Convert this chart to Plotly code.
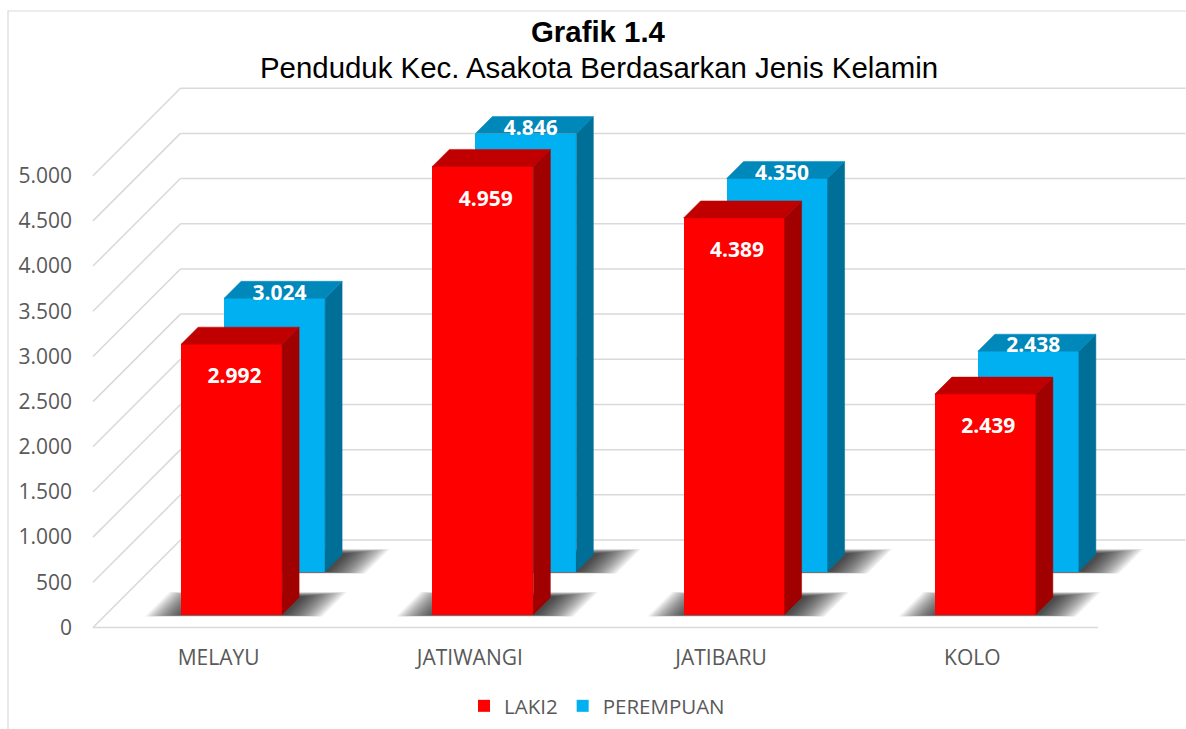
import plotly.graph_objects as go

# ---------------- data ----------------
categories = ["MELAYU", "JATIWANGI", "JATIBARU", "KOLO"]
laki2 = [2992, 4959, 4389, 2439]
perempuan = [3024, 4846, 4350, 2438]
y_ticks = [0, 500, 1000, 1500, 2000, 2500, 3000, 3500, 4000, 4500, 5000]
series_names = ["LAKI2", "PEREMPUAN"]
title_line1 = "Grafik 1.4"
title_line2 = "Penduduk Kec. Asakota Berdasarkan Jenis Kelamin"

# ---------------- geometry / style ----------------
W, H = 1186, 729
PX_PER_CAT = 251.25       # pixels per category step (front plane)
PX_PER_VAL = 0.09036      # pixels per value unit
X0_PX = 218.6             # pixel x of category 0 (front plane)
Y0_PX = 627.5             # pixel y of value 0 (front plane)
DOM_L, DOM_R = 73, W      # plot-area pixel bounds
DOM_T, DOM_B = 40, 643

BAR_W_PX = 101
THICK_PX = 17
WALL_DEPTH_PX = 87.5
DEPTH = {"LAKI2": 13, "PEREMPUAN": 56}
COLORS = {
    "LAKI2": dict(front="#FF0000", side="#A00000", top="#C00000"),
    "PEREMPUAN": dict(front="#00B0F0", side="#006F97", top="#0088BB"),
}
GRID = "#D9D9D9"
TXT = "#595959"


def dx(px):
    return px / PX_PER_CAT


def dv(px):
    return px / PX_PER_VAL


x_range = [(DOM_L - X0_PX) / PX_PER_CAT, (DOM_R - X0_PX) / PX_PER_CAT]
y_range = [(Y0_PX - DOM_B) / PX_PER_VAL, (Y0_PX - DOM_T) / PX_PER_VAL]

fig = go.Figure()
shapes = []

# chart border
shapes.append(dict(type="rect", xref="paper", yref="paper",
                   x0=8 / W, x1=1.05, y0=-0.05, y1=1 - 11 / H,
                   line=dict(color=GRID, width=1.2), layer="below"))

# gridlines (diagonal to back wall + back wall horizontal)
n = len(categories)
xl_front = -0.5
xl_back = -0.5 + dx(WALL_DEPTH_PX)
xr_back = n - 0.5 + dx(WALL_DEPTH_PX)
for t in y_ticks:
    yb = t + dv(WALL_DEPTH_PX)
    shapes.append(dict(type="line", xref="x", yref="y", x0=xl_front, y0=t,
                       x1=xl_back, y1=yb, line=dict(color=GRID, width=1.5),
                       layer="below"))
    shapes.append(dict(type="line", xref="x", yref="y", x0=xl_back, y0=yb,
                       x1=xr_back, y1=yb, line=dict(color=GRID, width=1.5),
                       layer="below"))
shapes.append(dict(type="line", xref="x", yref="y", x0=-0.5, y0=0,
                   x1=n - 0.5, y1=0, line=dict(color=GRID, width=1.5),
                   layer="below"))


def floor_pt(i, xoff_px, depth_px):
    return i + dx(xoff_px + depth_px), dv(depth_px)


# soft shadows on floor (stacked translucent layers imitate a blur)
for name in ["PEREMPUAN", "LAKI2"]:
    d = DEPTH[name]
    for i in range(n):
        for k in range(20):
            e = 38 - 2 * k
            sh = 4
            f_d = d - 0.5 - e * 0.04
            b_d = d + THICK_PX + 1 + e * 0.12
            pts = [floor_pt(i, -BAR_W_PX / 2 - e + sh, f_d),
                   floor_pt(i, BAR_W_PX / 2 + e + sh, f_d),
                   floor_pt(i, BAR_W_PX / 2 + e + sh, b_d),
                   floor_pt(i, -BAR_W_PX / 2 - e + sh, b_d)]
            path = "M " + " L ".join(f"{px},{py}" for px, py in pts) + " Z"
            shapes.append(dict(type="path", xref="x", yref="y", path=path,
                               fillcolor="rgba(0,0,0,0.055)",
                               line=dict(width=0), layer="below"))

values = {"LAKI2": laki2, "PEREMPUAN": perempuan}
bw = dx(BAR_W_PX)
t_x, t_v = dx(THICK_PX), dv(THICK_PX)

# front faces (bars) - back series first so the front series covers it
for rank, name in [(2, "PEREMPUAN"), (1, "LAKI2")]:
    d = DEPTH[name]
    fig.add_trace(go.Bar(
        x=[i + dx(d) for i in range(n)], y=values[name], base=dv(d),
        width=bw, name=name, legendrank=rank,
        marker=dict(color=COLORS[name]["front"], line=dict(width=0)),
        hovertemplate="%{customdata}: %{y}<extra>" + name + "</extra>",
        customdata=categories,
    ))

# side & top faces
for name in ["PEREMPUAN", "LAKI2"]:
    d = DEPTH[name]
    sx, sy, tx, ty = [], [], [], []
    for i, v in enumerate(values[name]):
        xc = i + dx(d)
        xl, xr = xc - bw / 2, xc + bw / 2
        base, top = dv(d), v + dv(d)
        sx += [xr, xr + t_x, xr + t_x, xr, xr, None]
        sy += [base, base + t_v, top + t_v, top, base, None]
        tx += [xl, xr, xr + t_x, xl + t_x, xl, None]
        ty += [top, top, top + t_v, top + t_v, top, None]
    for xs, ys, col in [(sx, sy, COLORS[name]["side"]), (tx, ty, COLORS[name]["top"])]:
        fig.add_trace(go.Scatter(x=xs, y=ys, mode="lines", fill="toself",
                                 fillcolor=col, line=dict(color=col, width=0.5),
                                 showlegend=False, hoverinfo="skip"))


def fmt(v):
    return f"{v:,}".replace(",", ".")


# data labels
lab_font = dict(family="Open Sans", size=21, color="white", weight="bold")
fig.add_trace(go.Scatter(
    x=[i + dx(DEPTH["PEREMPUAN"] + 5) for i in range(n)],
    y=[v + dv(DEPTH["PEREMPUAN"] + 4) for v in perempuan],
    text=[fmt(v) for v in perempuan], mode="text", textfont=lab_font,
    showlegend=False, hoverinfo="skip"))
fig.add_trace(go.Scatter(
    x=[i + dx(DEPTH["LAKI2"] + 3) for i in range(n)],
    y=[v + dv(DEPTH["LAKI2"]) - dv(34) for v in laki2],
    text=[fmt(v) for v in laki2], mode="text", textfont=lab_font,
    showlegend=False, hoverinfo="skip"))

title_font = dict(family="Liberation Sans, Arial", size=29.4, color="black")
annotations = [
    dict(text="<b>" + title_line1 + "</b>", xref="paper", yref="paper",
         x=598 / W, y=1 - 32 / H, xanchor="center", yanchor="middle",
         showarrow=False, font=title_font),
    dict(text=title_line2, xref="paper", yref="paper",
         x=599 / W, y=1 - 68 / H, xanchor="center", yanchor="middle",
         showarrow=False, font=title_font),
]

fig.update_layout(
    width=W, height=H,
    margin=dict(l=0, r=0, t=0, b=0),
    paper_bgcolor="white", plot_bgcolor="rgba(0,0,0,0)",
    barmode="overlay", bargap=0,
    separators=",.",
    shapes=shapes,
    annotations=annotations,
    xaxis=dict(domain=[DOM_L / W, DOM_R / W], range=x_range,
               tickvals=list(range(n)), ticktext=categories,
               showgrid=False, zeroline=False, showline=False, ticks="",
               tickfont=dict(family="Open Sans", size=21, color=TXT),
               fixedrange=True),
    yaxis=dict(domain=[1 - DOM_B / H, 1 - DOM_T / H], range=y_range,
               tickvals=y_ticks, tickformat=",d",
               showgrid=False, zeroline=False, showline=False, ticks="",
               tickfont=dict(family="Open Sans", size=21, color=TXT),
               fixedrange=True),
    legend=dict(orientation="h", x=597 / W, xanchor="center",
                y=1 - 706 / H, yanchor="middle",
                font=dict(family="Open Sans", size=20.5, color=TXT),
                bgcolor="rgba(0,0,0,0)"),
    showlegend=True,
)

fig.write_html(
    "out.html",
    config={"displayModeBar": False},
    post_script="document.body.style.margin='0';document.body.style.overflow='hidden';",
)
